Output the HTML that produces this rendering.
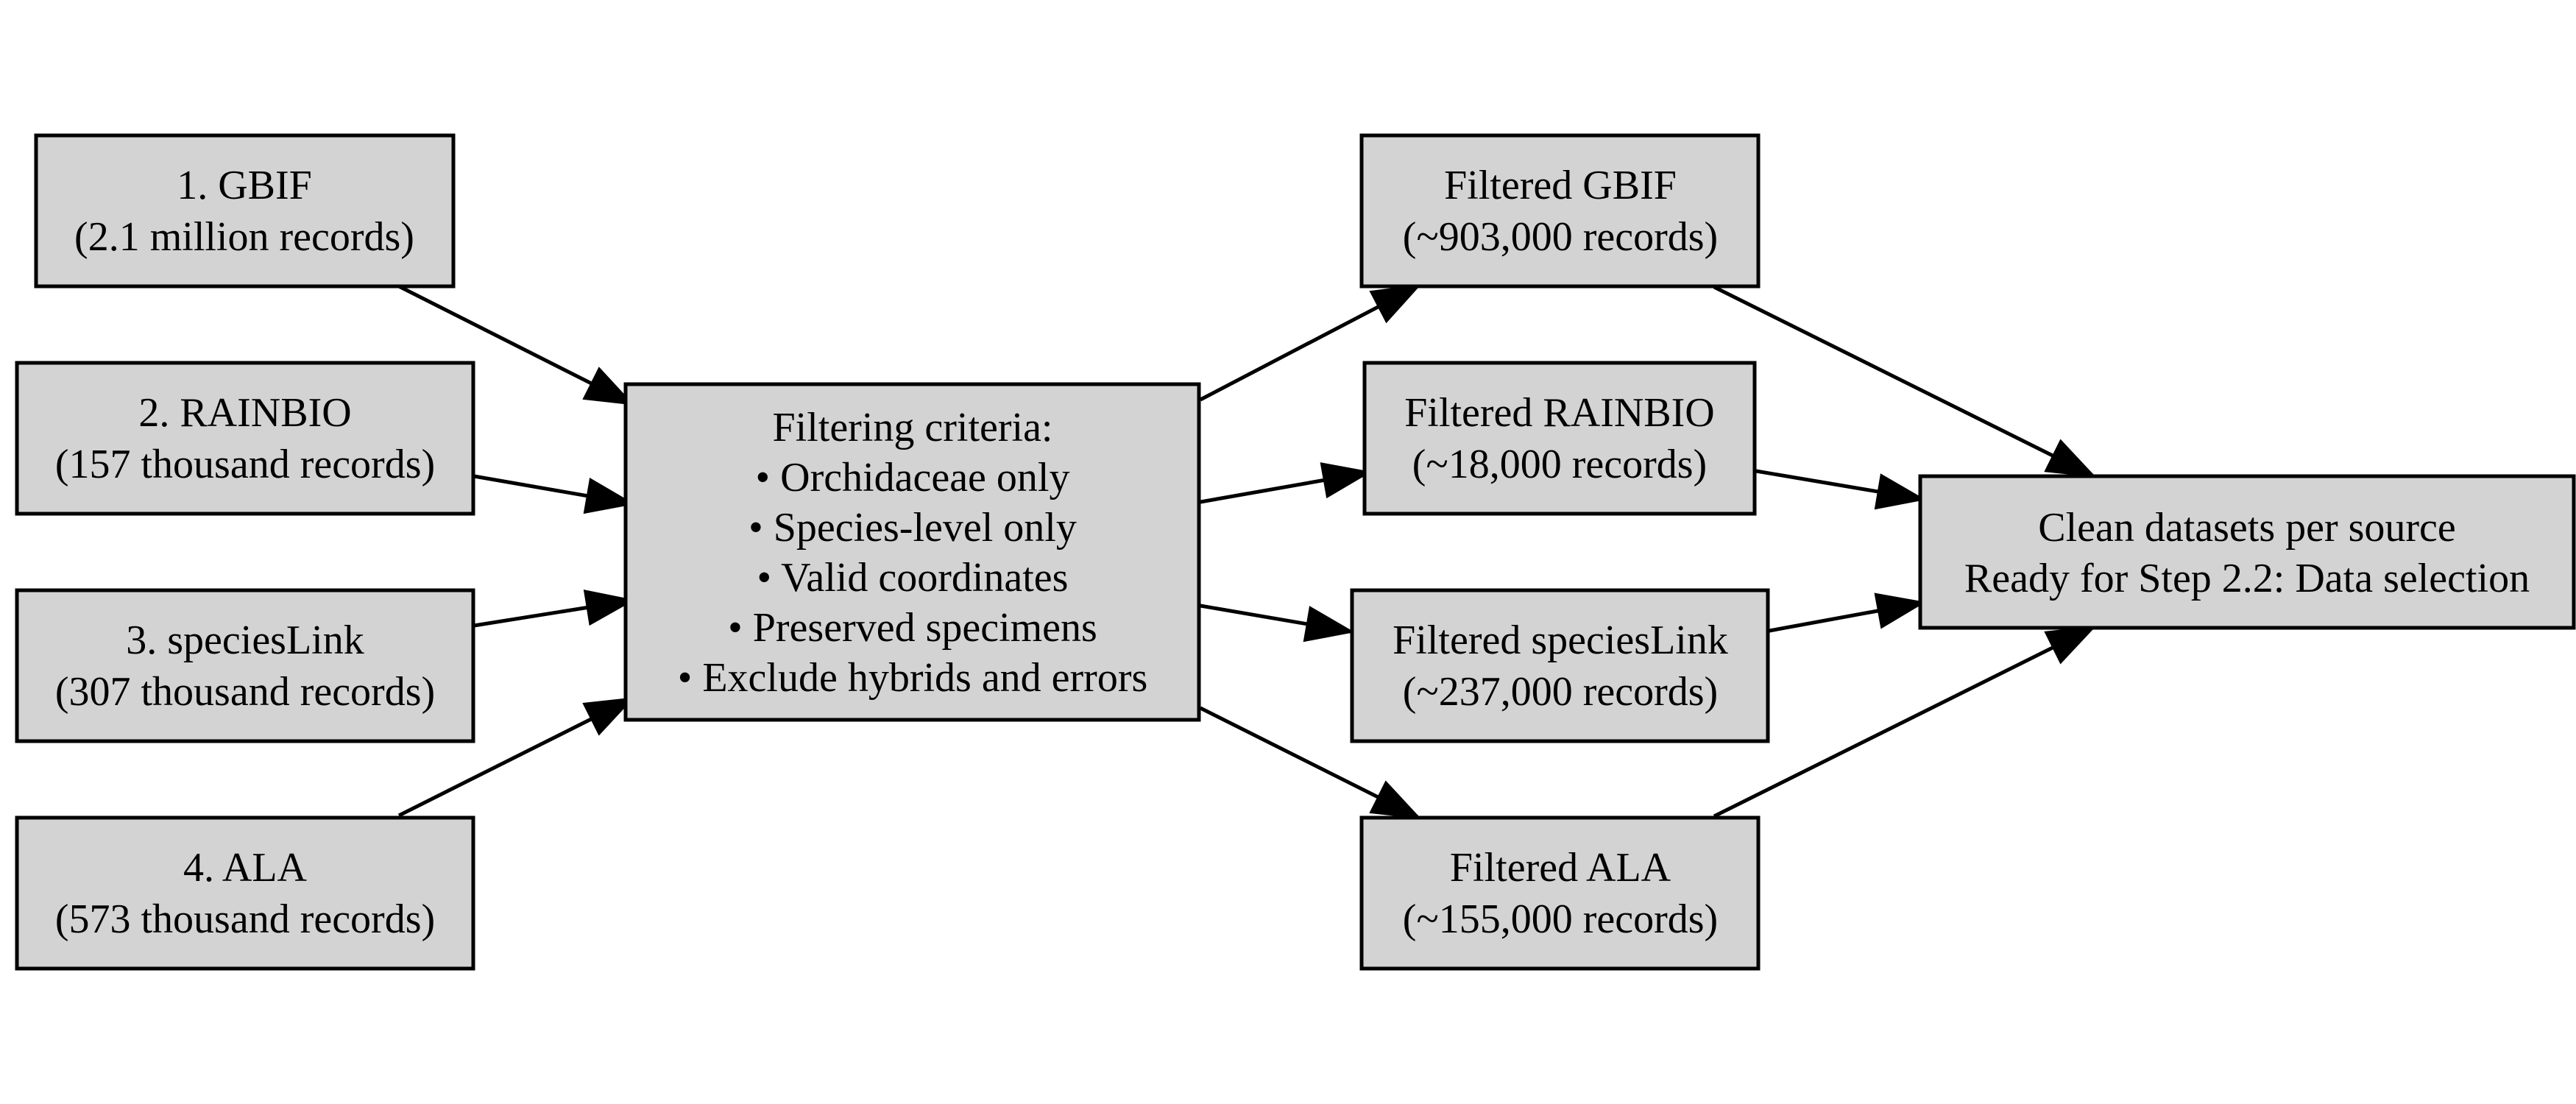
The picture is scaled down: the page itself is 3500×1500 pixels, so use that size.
<!DOCTYPE html>
<html><head><meta charset="utf-8"><style>html,body{margin:0;padding:0;background:#fff}svg{display:block}</style></head>
<body>
<svg width="3500" height="1500" viewBox="0 0 3500 1500" xmlns="http://www.w3.org/2000/svg" font-family="'Liberation Serif', serif" font-size="56" text-anchor="middle">
<defs>
<marker id="a" markerUnits="userSpaceOnUse" markerWidth="66" markerHeight="50" refX="62" refY="25" orient="auto">
<path d="M3,3 L62,25 L3,47 Z" fill="#000" stroke="#000" stroke-width="4"/>
</marker>
</defs>
<g stroke="#000" stroke-width="5" marker-end="url(#a)">
<line x1="542" y1="389" x2="857" y2="548"/>
<line x1="644" y1="647" x2="857" y2="684"/>
<line x1="644" y1="850" x2="857" y2="816"/>
<line x1="542" y1="1108" x2="857" y2="950"/>
<line x1="1631" y1="543" x2="1926" y2="389"/>
<line x1="1631" y1="682" x2="1858" y2="642"/>
<line x1="1631" y1="823" x2="1835" y2="858"/>
<line x1="1631" y1="962" x2="1926" y2="1110"/>
<line x1="2329" y1="390" x2="2843" y2="646"/>
<line x1="2386" y1="640" x2="2611" y2="678"/>
<line x1="2404" y1="857" x2="2611" y2="819"/>
<line x1="2329" y1="1109" x2="2843" y2="853"/>
</g>
<g fill="#d3d3d3" stroke="#000" stroke-width="5">
<rect x="49" y="184" width="567" height="205"/>
<rect x="23" y="493" width="620" height="205"/>
<rect x="23" y="802" width="620" height="205"/>
<rect x="23" y="1111" width="620" height="205"/>
<rect x="850" y="522" width="779" height="456"/>
<rect x="1850" y="184" width="539" height="205"/>
<rect x="1854" y="493" width="530" height="205"/>
<rect x="1837" y="802" width="565" height="205"/>
<rect x="1850" y="1111" width="539" height="205"/>
<rect x="2609" y="647" width="888" height="206"/>
</g>
<g fill="#000">
<text x="332" y="270">1. GBIF</text><text x="332" y="340">(2.1 million records)</text>
<text x="333" y="579">2. RAINBIO</text><text x="333" y="649">(157 thousand records)</text>
<text x="333" y="888">3. speciesLink</text><text x="333" y="958">(307 thousand records)</text>
<text x="333" y="1197">4. ALA</text><text x="333" y="1267">(573 thousand records)</text>
<text x="1240" y="599">Filtering criteria:</text>
<text x="1240" y="667">• Orchidaceae only</text>
<text x="1240" y="735">• Species-level only</text>
<text x="1240" y="803">• Valid coordinates</text>
<text x="1240" y="871">• Preserved specimens</text>
<text x="1240" y="939">• Exclude hybrids and errors</text>
<text x="2120" y="270">Filtered GBIF</text><text x="2120" y="340">(~903,000 records)</text>
<text x="2119" y="579">Filtered RAINBIO</text><text x="2119" y="649">(~18,000 records)</text>
<text x="2120" y="888">Filtered speciesLink</text><text x="2120" y="958">(~237,000 records)</text>
<text x="2120" y="1197">Filtered ALA</text><text x="2120" y="1267">(~155,000 records)</text>
<text x="3053" y="735">Clean datasets per source</text>
<text x="3053" y="804">Ready for Step 2.2: Data selection</text>
</g>
</svg>
</body></html>
